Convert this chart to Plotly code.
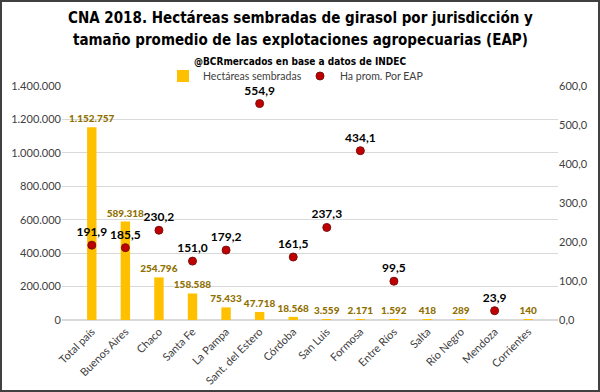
import plotly.graph_objects as go

categories = ["Total país", "Buenos Aires", "Chaco", "Santa Fe", "La Pampa", "Sant. del Estero",
              "Córdoba", "San Luis", "Formosa", "Entre Ríos", "Salta", "Río Negro", "Mendoza", "Corrientes"]
hectareas = [1152757, 589318, 254796, 158588, 75433, 47718, 18568, 3559, 2171, 1592, 418, 289, None, 140]
ha_prom = [191.9, 185.5, 230.2, 151.0, 179.2, 554.9, 161.5, 237.3, 434.1, 99.5, None, None, 23.9, None]

title_1 = "CNA 2018. Hectáreas sembradas de girasol por jurisdicción y"
title_2 = "tamaño promedio de las explotaciones agropecuarias (EAP)"
subtitle = "@BCRmercados en base a datos de INDEC"

W, H = 600, 392
ml, mr, mt, mb = 62, 42, 86, 72
pw = W - ml - mr
ph = H - mt - mb

def py(pix):
    # pixel from top -> paper y
    return (H - mb - pix) / ph

fig = go.Figure()
fig.add_trace(go.Bar(
    x=categories, y=hectareas, name="Hectáreas sembradas",
    marker=dict(color="#FFC000", line=dict(width=0)),
    width=0.28,
    texttemplate="%{y:,d}", textposition="outside", cliponaxis=False,
    constraintext="none",
    textfont=dict(family="Lato", size=10, color="#8F7000", weight=900),
))
fig.add_trace(go.Scatter(
    x=categories, y=ha_prom, name="Ha prom. Por EAP", yaxis="y2",
    mode="markers+text",
    marker=dict(color="#C00000", size=8, line=dict(color="#7a1010", width=1)),
    texttemplate="%{y:.1f}", textposition="top center", cliponaxis=False,
    textfont=dict(family="Lato", size=12, color="#000000", weight="bold"),
))

fig.add_shape(type="rect", xref="paper", yref="paper",
              x0=-(ml - 1) / pw, x1=1 + (mr - 1) / pw,
              y0=-(mb - 1) / ph, y1=1 + (mt - 1) / ph,
              line=dict(color="#404040", width=2), layer="above")

title_font = dict(family="DejaVu Sans Condensed", size=15, color="#000000", weight="bold")
xc = (W / 2 - ml) / pw
for txt, ypix, fnt in [
    (title_1, 18, title_font),
    (title_2, 40, title_font),
    (subtitle, 62, dict(family="DejaVu Sans Condensed", size=10, color="#000000", weight="bold")),
]:
    fig.add_annotation(text=txt, xref="paper", yref="paper", x=xc, y=py(ypix),
                       xanchor="center", yanchor="middle", showarrow=False, font=fnt)

fig.update_layout(
    width=W, height=H,
    margin=dict(l=ml, r=mr, t=mt, b=mb, autoexpand=False),
    paper_bgcolor="white", plot_bgcolor="white",
    separators=",.",
    legend=dict(orientation="h", x=(W / 2 - ml) / pw, xanchor="center", y=py(76), yanchor="middle",
                font=dict(family="Lato", size=10.5, color="#404040"),
                bgcolor="rgba(0,0,0,0)", entrywidth=92, entrywidthmode="pixels",
                traceorder="normal"),
    xaxis=dict(tickangle=-45, tickfont=dict(family="Lato", size=11, color="#404040"),
               showline=True, linecolor="#d9d9d9", ticks="", automargin=False),
    yaxis=dict(range=[0, 1400000], dtick=200000, tickformat=",d",
               gridcolor="#d9d9d9", zeroline=True, zerolinecolor="#d9d9d9", automargin=False,
               tickfont=dict(family="Lato", size=11, color="#404040")),
    yaxis2=dict(range=[0, 600], dtick=100, tickformat=".1f", overlaying="y", side="right",
                showgrid=False, zeroline=False, automargin=False,
                tickfont=dict(family="Lato", size=11, color="#404040")),
    showlegend=True,
)

fig.write_html("out.html", config={"displayModeBar": False},
               post_script="document.body.style.margin='0';document.body.style.overflow='hidden';")
